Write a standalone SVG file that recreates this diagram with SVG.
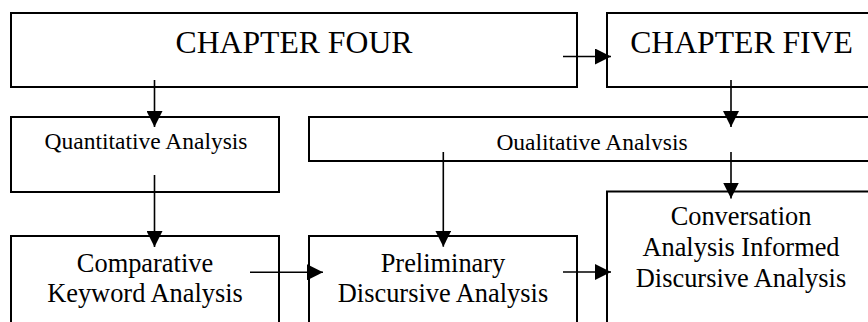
<svg xmlns="http://www.w3.org/2000/svg" width="868" height="322" viewBox="0 0 868 322">
<style>
.box{fill:#fff;stroke:#000;stroke-width:2}
.t{font-family:"Liberation Serif","Times New Roman",serif;fill:#000;text-anchor:middle}
.big{font-size:31.7px}
.mid{font-size:23.5px}
.nrm{font-size:26.4px}
.c{stroke:#000;stroke-width:1.6;fill:none;marker-end:url(#ah)}
</style>
<defs>
<marker id="ah" markerUnits="userSpaceOnUse" markerWidth="16" markerHeight="16" viewBox="0 0 16 16" refX="16" refY="8" orient="auto">
<path d="M0,0 L16,8 L0,16 z" fill="#000"/>
</marker>
<clipPath id="qclip"><rect x="309" y="117" width="566" height="33"/></clipPath>
</defs>
<rect width="868" height="322" fill="#fff"/>
<g id="chapter-four">
<rect class="box" x="11" y="13" width="566" height="74"/>
<text class="t big" x="294" y="53">CHAPTER FOUR</text>
</g>
<g id="chapter-five">
<rect class="box" x="607" y="13" width="268" height="74"/>
<text class="t big" x="741.5" y="53">CHAPTER FIVE</text>
</g>
<g id="quantitative">
<rect class="box" x="11" y="117" width="268" height="75"/>
<text class="t mid" x="146" y="149.3">Quantitative Analysis</text>
</g>
<g id="qualitative">
<rect class="box" x="309" y="117" width="566" height="44"/>
<text class="t mid" x="592" y="149.5" clip-path="url(#qclip)">Qualitative Analysis</text>
</g>
<g id="comparative">
<rect class="box" x="11" y="236" width="268" height="110"/>
<text class="t nrm" x="145" y="271.7">Comparative</text>
<text class="t nrm" x="145" y="301.7">Keyword Analysis</text>
</g>
<g id="preliminary">
<rect class="box" x="309" y="236" width="268" height="110"/>
<text class="t nrm" x="443" y="271.7">Preliminary</text>
<text class="t nrm" x="443" y="301.7">Discursive Analysis</text>
</g>
<g id="conversation">
<rect class="box" x="607" y="191.5" width="268" height="150"/>
<text class="t nrm" x="741" y="225">Conversation</text>
<text class="t nrm" x="741" y="256">Analysis Informed</text>
<text class="t nrm" x="741" y="286.7">Discursive Analysis</text>
</g>
<g id="connectors">
<line class="c" x1="563" y1="56.5" x2="611" y2="56.5"/>
<line class="c" x1="154.5" y1="80" x2="154.5" y2="127"/>
<line class="c" x1="731" y1="80" x2="731" y2="127"/>
<line class="c" x1="154.5" y1="175" x2="154.5" y2="247"/>
<line class="c" x1="443.3" y1="152" x2="443.3" y2="246.7"/>
<line class="c" x1="731" y1="152" x2="731" y2="198.5"/>
<line class="c" x1="250" y1="272.3" x2="323" y2="272.3"/>
<line class="c" x1="563" y1="272" x2="611" y2="272"/>
</g>
</svg>
